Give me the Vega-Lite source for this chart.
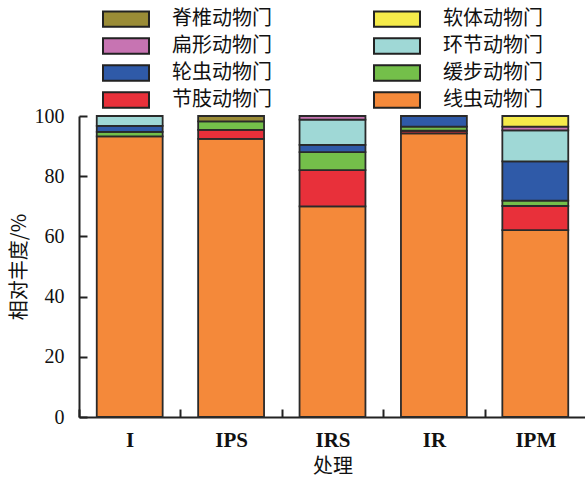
{
  "$schema": "https://vega.github.io/schema/vega-lite/v6.json",
  "width": 507,
  "height": 301,
  "autosize": {"type": "none"},
  "padding": {"left": 79, "top": 116, "right": 0, "bottom": 61},
  "background": "white",
  "config": {
    "view": {"stroke": null},
    "axis": {
      "domainColor": "#222222",
      "domainWidth": 2,
      "tickColor": "#222222",
      "tickWidth": 2,
      "labelColor": "#111111",
      "titleColor": "#111111",
      "grid": false
    }
  },
  "data": {
    "values": [
      {"group": "I", "phylum": "线虫动物门", "ord": 1, "value": 93.2},
      {"group": "I", "phylum": "缓步动物门", "ord": 3, "value": 1.5},
      {"group": "I", "phylum": "轮虫动物门", "ord": 4, "value": 2.0},
      {"group": "I", "phylum": "环节动物门", "ord": 5, "value": 3.3},
      {"group": "IPS", "phylum": "线虫动物门", "ord": 1, "value": 92.4},
      {"group": "IPS", "phylum": "节肢动物门", "ord": 2, "value": 3.0},
      {"group": "IPS", "phylum": "缓步动物门", "ord": 3, "value": 2.8},
      {"group": "IPS", "phylum": "脊椎动物门", "ord": 8, "value": 1.8},
      {"group": "IRS", "phylum": "线虫动物门", "ord": 1, "value": 70.0},
      {"group": "IRS", "phylum": "节肢动物门", "ord": 2, "value": 12.0},
      {"group": "IRS", "phylum": "缓步动物门", "ord": 3, "value": 6.0},
      {"group": "IRS", "phylum": "轮虫动物门", "ord": 4, "value": 2.4},
      {"group": "IRS", "phylum": "环节动物门", "ord": 5, "value": 8.4},
      {"group": "IRS", "phylum": "扁形动物门", "ord": 6, "value": 1.2},
      {"group": "IR", "phylum": "线虫动物门", "ord": 1, "value": 94.2},
      {"group": "IR", "phylum": "节肢动物门", "ord": 2, "value": 0.9},
      {"group": "IR", "phylum": "缓步动物门", "ord": 3, "value": 1.4},
      {"group": "IR", "phylum": "轮虫动物门", "ord": 4, "value": 3.5},
      {"group": "IPM", "phylum": "线虫动物门", "ord": 1, "value": 62.1},
      {"group": "IPM", "phylum": "节肢动物门", "ord": 2, "value": 8.0},
      {"group": "IPM", "phylum": "缓步动物门", "ord": 3, "value": 1.8},
      {"group": "IPM", "phylum": "轮虫动物门", "ord": 4, "value": 13.0},
      {"group": "IPM", "phylum": "环节动物门", "ord": 5, "value": 10.3},
      {"group": "IPM", "phylum": "扁形动物门", "ord": 6, "value": 1.3},
      {"group": "IPM", "phylum": "软体动物门", "ord": 7, "value": 3.5}
    ]
  },
  "mark": {"type": "bar", "stroke": "#2a2a2a", "strokeWidth": 1.8},
  "encoding": {
    "x": {
      "field": "group",
      "type": "nominal",
      "sort": ["I", "IPS", "IRS", "IR", "IPM"],
      "scale": {"paddingInner": 0.35, "paddingOuter": 0.175},
      "axis": {
        "title": "处理",
        "titleFont": "Noto Sans CJK SC",
        "titleFontSize": 20,
        "titleFontWeight": "normal",
        "titlePadding": 6,
        "labelAngle": 0,
        "labelFont": "Liberation Serif",
        "labelFontSize": 21,
        "labelFontWeight": "bold",
        "labelPadding": 20,
        "tickSize": -8,
        "tickOffset": -50.7,
        "labelOffset": 50.7
      }
    },
    "y": {
      "field": "value",
      "type": "quantitative",
      "stack": "zero",
      "scale": {"domain": [0, 100]},
      "axis": {
        "title": "相对丰度/%",
        "titleFont": "Noto Sans CJK SC",
        "titleFontSize": 20,
        "titleFontWeight": "normal",
        "titlePadding": 5,
        "values": [0, 20, 40, 60, 80, 100],
        "labelFont": "Liberation Serif",
        "labelFontSize": 20,
        "labelPadding": 23,
        "tickSize": -8
      }
    },
    "color": {
      "field": "phylum",
      "type": "nominal",
      "scale": {
        "domain": ["脊椎动物门", "扁形动物门", "轮虫动物门", "节肢动物门", "软体动物门", "环节动物门", "缓步动物门", "线虫动物门"],
        "range": ["#9a8c36", "#c774b2", "#2f5aa8", "#e8303a", "#f5eb4a", "#9fd8d6", "#74bf4a", "#f4893a"]
      },
      "legend": {
        "title": null,
        "orient": "none",
        "legendX": 37,
        "legendY": -107,
        "columns": 2,
        "columnPadding": 98,
        "rowPadding": 3,
        "padding": 0,
        "symbolType": "M-3,-1H3V1H-3Z",
        "symbolSize": 235,
        "symbolStrokeColor": "#222222",
        "symbolStrokeWidth": 2,
        "symbolOpacity": 1,
        "labelFont": "Noto Sans CJK SC",
        "labelFontSize": 20,
        "labelColor": "#111111",
        "labelOffset": 36
      }
    },
    "order": {"field": "ord", "type": "quantitative"}
  }
}
